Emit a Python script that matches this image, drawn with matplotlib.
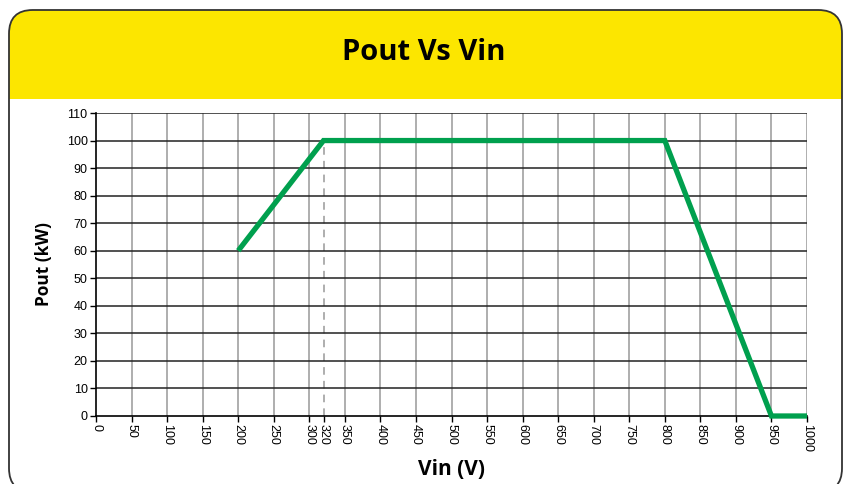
import matplotlib
matplotlib.use("Agg")
import matplotlib.pyplot as plt
from matplotlib.patches import FancyBboxPatch, Rectangle

vin = [200, 320, 800, 950, 1000]
pout = [60, 100, 100, 0, 0]
xticks = [0, 50, 100, 150, 200, 250, 300, 320, 350, 400, 450, 500, 550, 600,
          650, 700, 750, 800, 850, 900, 950, 1000]
yticks = list(range(0, 111, 10))
marker_v = 320
marker_p = 100

W, H = 847, 484
fig = plt.figure(figsize=(W / 100, H / 100), dpi=100)
fig.patch.set_facecolor("white")

L, T, R, B = 9, 10, 842, 492
def fx(x): return x / W
def fy(y): return 1 - y / H

yellow = "#FCE600"
card = FancyBboxPatch((fx(L), fy(B)), fx(R) - fx(L), fy(T) - fy(B),
                      boxstyle="round,pad=0,rounding_size=0.028",
                      transform=fig.transFigure, facecolor="none",
                      edgecolor="#333333", linewidth=1.3, zorder=1,
                      mutation_aspect=W / H)
fig.patches.append(card)
header = Rectangle((fx(L), fy(99)), fx(R) - fx(L), fy(T) - fy(99),
                   transform=fig.transFigure, facecolor=yellow,
                   edgecolor="none", zorder=0.5)
fig.patches.append(header)
header.set_clip_path(card)

fig.text(0.5, fy(53), "Pout Vs Vin", ha="center", va="center",
         fontsize=21, fontweight="bold", family="Open Sans")

ax = fig.add_axes([96 / W, 1 - 416 / H, (807 - 96) / W, (416 - 113) / H])
ax.set_xlim(0, 1000)
ax.set_ylim(0, 110)
ax.set_xticks(xticks)
ax.set_yticks(yticks)
ax.set_xticklabels([str(v) for v in xticks], rotation=270, fontsize=9,
                   family="Liberation Sans")
ax.set_yticklabels([str(v) for v in yticks], fontsize=9, family="Liberation Sans")
ax.tick_params(axis="both", direction="out", length=4, width=1, pad=2, color="black")

for v in xticks:
    if v in (0, marker_v):
        continue
    ax.axvline(v, color="#999999", lw=1.1, zorder=1)
for v in yticks[1:]:
    ax.axhline(v, color="#222222", lw=1.1, zorder=1.5)

ax.plot([marker_v, marker_v], [0, marker_p], color="#999999", lw=1.1,
        ls=(0, (5, 4)), zorder=1)

for s in ["top", "right"]:
    ax.spines[s].set_visible(False)
ax.spines["left"].set_linewidth(1.2)
ax.spines["bottom"].set_linewidth(1.2)

ax.plot(vin, pout, color="#00A04E", lw=3.8, solid_capstyle="butt",
        solid_joinstyle="miter", zorder=3, clip_on=False)

ax.set_xlabel("Vin (V)", fontsize=15, fontweight="bold", family="Open Sans",
              labelpad=5)
ax.set_ylabel("Pout (kW)", fontsize=12.5, fontweight="bold", family="Open Sans",
              labelpad=10)

fig.savefig("out.png", dpi=100)
